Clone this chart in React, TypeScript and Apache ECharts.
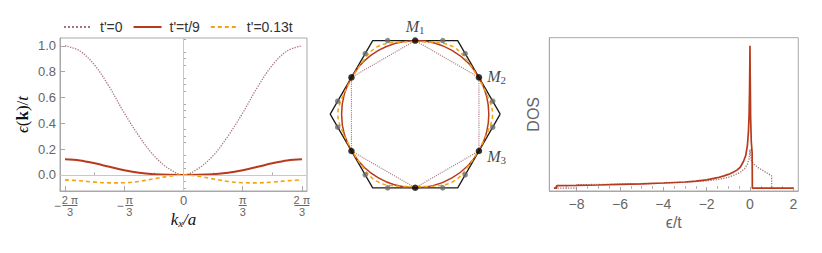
import React, { useEffect, useRef } from "react";
import * as echarts from "echarts";

// ---------------- Left panel: dispersion along kx (kx in units of π/3) ----------------
const kTicks = [-2, -1, 0, 1, 2];
const kMinorTicks = [-1.5, -0.5, 0.5, 1.5];
const energyTicks = [0, 0.2, 0.4, 0.6, 0.8, 1.0];
const energyMinorTicks = [-0.1, -0.05, 0.05, 0.1, 0.15, 0.25, 0.3, 0.35, 0.45, 0.5, 0.55, 0.65, 0.7, 0.75, 0.85, 0.9, 0.95, 1.05];
const kValues = [-2, -1.75, -1.5, -1.25, -1, -0.75, -0.5, -0.25, 0, 0.25, 0.5, 0.75, 1, 1.25, 1.5, 1.75, 2];
const bandT0 = [1.0, 0.96, 0.85, 0.68, 0.48, 0.3, 0.15, 0.05, 0, 0.05, 0.15, 0.3, 0.48, 0.68, 0.85, 0.96, 1.0];
const bandT9 = [0.121, 0.112, 0.09, 0.063, 0.037, 0.017, 0.006, 0.001, 0, 0.001, 0.006, 0.017, 0.037, 0.063, 0.09, 0.112, 0.121];
const bandT13 = [-0.038, -0.045, -0.055, -0.061, -0.06, -0.05, -0.03, -0.01, 0, -0.01, -0.03, -0.05, -0.06, -0.061, -0.055, -0.045, -0.038];
const legendNames = ["t'=0", "t'=t/9", "t'=0.13t"];

// ---------------- Middle panel: Brillouin zone and Fermi surfaces ----------------
const hexVertices = [[1, 0], [0.5, 0.866], [-0.5, 0.866], [-1, 0], [-0.5, -0.866], [0.5, -0.866], [1, 0]];
const mPoints = [[0, 0.866], [0.75, 0.433], [0.75, -0.433], [0, -0.866], [-0.75, -0.433], [-0.75, 0.433]];
const mSubscripts = ["1", "2", "3", "", "", ""];
const greyPoints = [
  [-0.324, 0.866], [0.324, 0.866], [0.588, 0.713], [0.912, 0.153], [0.912, -0.153], [0.588, -0.713],
  [0.324, -0.866], [-0.324, -0.866], [-0.588, -0.713], [-0.912, -0.153], [-0.912, 0.153], [-0.588, 0.713],
];
const fermiT0 = [[0, 0.866], [0.75, 0.433], [0.75, -0.433], [0, -0.866], [-0.75, -0.433], [-0.75, 0.433], [0, 0.866]];
const fermiT9Circle = [[0, 0, 0.866]];
const fermiT13 = [
  [0, 0.852], [0.226, 0.845], [0.455, 0.788], [0.619, 0.619], [0.74, 0.428], [0.845, 0.226], [0.91, 0],
  [0.845, -0.226], [0.74, -0.428], [0.619, -0.619], [0.455, -0.788], [0.226, -0.845], [0, -0.852],
  [-0.226, -0.845], [-0.455, -0.788], [-0.619, -0.619], [-0.74, -0.428], [-0.845, -0.226], [-0.91, 0],
  [-0.845, 0.226], [-0.74, 0.428], [-0.619, 0.619], [-0.455, 0.788], [-0.226, 0.845], [0, 0.852],
];

// ---------------- Right panel: density of states ----------------
const dosTicks = [-8, -6, -4, -2, 0, 2];
const dosMinorTicks = [-9, -8.5, -7.5, -7, -6.5, -5.5, -5, -4.5, -3.5, -3, -2.5, -1.5, -1, -0.5, 0.5, 1, 1.5];
const dosT0 = [
  [-9.0, 0.004], [-8.02, 0.004], [-8.0, 0.028], [-7, 0.03], [-6, 0.032], [-5, 0.035], [-4, 0.039], [-3, 0.045],
  [-2, 0.055], [-1.5, 0.064], [-1, 0.08], [-0.7, 0.097], [-0.45, 0.115], [-0.25, 0.14], [-0.12, 0.17],
  [-0.05, 0.205], [-0.01, 0.25], [0, 0.275], [0.02, 0.24], [0.06, 0.2], [0.15, 0.175], [0.4, 0.145],
  [0.7, 0.118], [1.0, 0.09], [1.0, 0.004], [1.1, 0.004],
];
const dosT9 = [
  [-9.05, 0.004], [-8.93, 0.004], [-8.92, 0.021], [-8, 0.023], [-7, 0.026], [-6, 0.03], [-5, 0.034], [-4, 0.04],
  [-3, 0.047], [-2.5, 0.053], [-2, 0.062], [-1.5, 0.077], [-1.2, 0.09], [-1, 0.1], [-0.8, 0.113], [-0.6, 0.13],
  [-0.45, 0.15], [-0.3, 0.19], [-0.2, 0.23], [-0.12, 0.3], [-0.07, 0.4], [-0.04, 0.52], [-0.02, 0.68],
  [-0.005, 0.9], [0, 1.0], [0.01, 0.8], [0.03, 0.5], [0.06, 0.33], [0.1, 0.25], [0.11, 0.25], [0.11, 0.004],
  [2, 0.004],
];

const RED = "#b73a1c";
const ORANGE = "#f5a20f";
const DOT = "#a8737a";
const FRAME = "#a8a8a8";
const TICKLABEL = "#666666";
const SANS = "Liberation Sans";
const SERIF = "Liberation Serif";

function kLabel(v: number): string {
  if (Math.abs(v) < 1e-9) return "{z|0}";
  const wide = Math.abs(Math.abs(v) - 2) < 1e-9;
  const num = wide ? "2 π" : "π";
  const bar = wide ? "{bw| }" : "{bn| }";
  if (v < 0) return `{sp| }{num|${num}}\n{m|−}${bar}\n{sp| }{den|3}`;
  return `{num|${num}}\n${bar}\n{den|3}`;
}

export default function App() {
  const ref = useRef<HTMLDivElement>(null);
  useEffect(() => {
    if (!ref.current) return;
    const chart = echarts.init(ref.current, undefined, { renderer: "svg" });
    const subRich = {
      m: { fontFamily: SERIF, fontStyle: "italic", fontSize: 16, color: "#111", lineHeight: 18 },
      s: { fontFamily: SERIF, fontSize: 11, color: "#111", lineHeight: 10, verticalAlign: "bottom", padding: [6, 0, 0, 0] },
    };
    const option: any = {
      animation: false,
      textStyle: { fontFamily: SANS },
      legend: {
        data: legendNames,
        left: 58,
        top: 15,
        itemWidth: 28,
        itemHeight: 12,
        itemGap: 10,
        selectedMode: false,
        itemStyle: { opacity: 0 },
        textStyle: { fontFamily: SANS, fontSize: 14, color: "#333", padding: [0, 0, 0, 3] },
      },
      grid: [
        { left: 60, top: 38, width: 247, height: 153, show: true, borderColor: FRAME, borderWidth: 1, backgroundColor: "transparent" },
        { left: 321.7, top: 20.7, width: 187, height: 187 },
        { left: 549.3, top: 37.7, width: 249, height: 153.3, show: true, borderColor: FRAME, borderWidth: 1, backgroundColor: "transparent" },
      ],
      xAxis: [
        {
          gridIndex: 0, type: "value", min: -2.085, max: 2.085, position: "bottom",
          axisLine: { show: true, onZero: false, lineStyle: { color: FRAME } },
          axisTick: { show: true, inside: true, length: 5, customValues: kTicks, lineStyle: { color: FRAME } },
          splitLine: { show: false },
          axisLabel: {
            customValues: kTicks, margin: 4, formatter: kLabel,
            rich: {
              num: { fontFamily: SANS, fontSize: 11, color: TICKLABEL, lineHeight: 9 },
              den: { fontFamily: SANS, fontSize: 11, color: TICKLABEL, lineHeight: 9 },
              bw: { width: 15, height: 1, backgroundColor: TICKLABEL, lineHeight: 3, fontSize: 1 },
              bn: { width: 8, height: 1, backgroundColor: TICKLABEL, lineHeight: 3, fontSize: 1 },
              m: { fontFamily: SANS, fontSize: 12, color: TICKLABEL, width: 10, lineHeight: 3 },
              sp: { width: 10, fontSize: 1, lineHeight: 9 },
              z: { fontFamily: SANS, fontSize: 13, color: TICKLABEL, lineHeight: 11 },
            },
          },
          name: "{i|k}{s|x}{i|/a}", nameLocation: "middle", nameGap: 19, nameMoveOverlap: false,
          nameTextStyle: {
            verticalAlign: "top",
            rich: {
              i: { fontFamily: SERIF, fontStyle: "italic", fontSize: 17, color: "#111", lineHeight: 18 },
              s: { fontFamily: SERIF, fontStyle: "italic", fontSize: 11, color: "#111", lineHeight: 10, verticalAlign: "bottom", padding: [6, 0, 0, 0] },
            },
          },
        },
        {
          gridIndex: 0, type: "value", min: -2.085, max: 2.085, position: "bottom",
          axisLine: { show: false },
          axisTick: { show: true, inside: true, length: 2.5, customValues: kMinorTicks, lineStyle: { color: FRAME } },
          axisLabel: { show: false }, splitLine: { show: false },
        },
        { gridIndex: 1, type: "value", min: -1.1, max: 1.1, show: false },
        {
          gridIndex: 2, type: "value", min: -9.26, max: 2.23, position: "bottom",
          axisLine: { show: true, onZero: false, lineStyle: { color: FRAME } },
          axisTick: { show: true, inside: true, length: 4, customValues: dosTicks, lineStyle: { color: FRAME } },
          splitLine: { show: false },
          axisLabel: { customValues: dosTicks, margin: 6, fontFamily: SANS, fontSize: 14, color: TICKLABEL, formatter: (v: number) => (v < 0 ? "−" + Math.abs(v) : String(v)) },
          name: "ϵ/t", nameLocation: "middle", nameGap: 23, nameMoveOverlap: false,
          nameTextStyle: { fontFamily: SANS, fontSize: 16, color: TICKLABEL, verticalAlign: "top" },
        },
        {
          gridIndex: 2, type: "value", min: -9.26, max: 2.23, position: "bottom",
          axisLine: { show: false },
          axisTick: { show: true, inside: true, length: 2.5, customValues: dosMinorTicks, lineStyle: { color: FRAME } },
          axisLabel: { show: false }, splitLine: { show: false },
        },
      ],
      yAxis: [
        {
          gridIndex: 0, type: "value", min: -0.124, max: 1.06, position: "left",
          axisLine: { show: true, onZero: false, lineStyle: { color: FRAME } },
          axisTick: { show: true, inside: true, length: 5, customValues: energyTicks, lineStyle: { color: FRAME } },
          splitLine: { show: false },
          axisLabel: { customValues: energyTicks, margin: 4, fontFamily: SANS, fontSize: 13, color: TICKLABEL, formatter: (v: number) => v.toFixed(1) },
          name: "{e|ϵ}{p|(}{b|k}{p|)/}{e|t}", nameLocation: "middle", nameGap: 29, nameRotate: 90, nameMoveOverlap: false,
          nameTextStyle: {
            rich: {
              e: { fontFamily: SERIF, fontStyle: "italic", fontSize: 17, color: "#111" },
              p: { fontFamily: SERIF, fontSize: 17, color: "#111" },
              b: { fontFamily: SERIF, fontWeight: "bold", fontSize: 17, color: "#111" },
            },
          },
        },
        {
          gridIndex: 0, type: "value", min: -0.124, max: 1.06, position: "left",
          axisLine: { show: false },
          axisTick: { show: true, inside: true, length: 2.5, customValues: energyMinorTicks, lineStyle: { color: FRAME } },
          axisLabel: { show: false }, splitLine: { show: false },
        },
        { gridIndex: 1, type: "value", min: -1.1, max: 1.1, show: false },
        {
          gridIndex: 2, type: "value", min: -0.016, max: 1.056, position: "left",
          axisLine: { show: true, onZero: false, lineStyle: { color: FRAME } },
          axisTick: { show: false }, axisLabel: { show: false }, splitLine: { show: false },
          name: "DOS", nameLocation: "middle", nameGap: 8, nameRotate: 90, nameMoveOverlap: false,
          nameTextStyle: { fontFamily: SANS, fontSize: 16, color: TICKLABEL },
        },
      ],
      series: [
        {
          type: "line", xAxisIndex: 0, yAxisIndex: 0, data: [], z: 1, silent: true,
          markLine: {
            silent: true, symbol: ["none", "none"], label: { show: false },
            lineStyle: { color: "#c8c8c8", type: "solid", width: 1 },
            data: [{ yAxis: 0 }, { xAxis: 0 }],
          },
        },
        {
          name: legendNames[0], type: "line", xAxisIndex: 0, yAxisIndex: 0, smooth: 0.35, symbol: "none", z: 3,
          data: kValues.map((k, i) => [k, bandT0[i]]),
          lineStyle: { color: DOT, width: 1.3, type: "dotted" }, itemStyle: { color: DOT },
        },
        {
          name: legendNames[1], type: "line", xAxisIndex: 0, yAxisIndex: 0, smooth: 0.35, symbol: "none", z: 3,
          data: kValues.map((k, i) => [k, bandT9[i]]),
          lineStyle: { color: RED, width: 2, type: "solid" }, itemStyle: { color: RED },
        },
        {
          name: legendNames[2], type: "line", xAxisIndex: 0, yAxisIndex: 0, smooth: 0.35, symbol: "none", z: 3,
          data: kValues.map((k, i) => [k, bandT13[i]]),
          lineStyle: { color: ORANGE, width: 1.6, type: [4, 3] }, itemStyle: { color: ORANGE },
        },
        // middle
        {
          name: "BZ", type: "line", xAxisIndex: 2, yAxisIndex: 2, symbol: "none", data: hexVertices, z: 2,
          lineStyle: { color: "#1a1a1a", width: 1.3 },
        },
        {
          name: "FS0", type: "line", xAxisIndex: 2, yAxisIndex: 2, symbol: "none", data: fermiT0, z: 3,
          lineStyle: { color: DOT, width: 1.1, type: "dotted" },
        },
        {
          name: "FS9", type: "custom", xAxisIndex: 2, yAxisIndex: 2, data: fermiT9Circle, z: 3,
          encode: { x: 0, y: 1 },
          renderItem: (_p: any, api: any) => {
            const c = api.coord([api.value(0), api.value(1)]);
            const e = api.coord([api.value(0) + api.value(2), api.value(1)]);
            return { type: "circle", shape: { cx: c[0], cy: c[1], r: e[0] - c[0] }, style: { fill: "none", stroke: RED, lineWidth: 1.5 } };
          },
        },
        {
          name: "FS13", type: "line", xAxisIndex: 2, yAxisIndex: 2, symbol: "none", smooth: 0.4, data: fermiT13, z: 3,
          lineStyle: { color: ORANGE, width: 1.5, type: [4, 3] },
        },
        {
          name: "grey", type: "scatter", xAxisIndex: 2, yAxisIndex: 2, data: greyPoints, z: 5,
          symbolSize: 5.5, itemStyle: { color: "#6b6b6b" },
        },
        {
          name: "M", type: "scatter", xAxisIndex: 2, yAxisIndex: 2, z: 6, symbolSize: 6.5, itemStyle: { color: "#000" },
          data: mPoints.map((p, i) => ({
            value: p,
            label: mSubscripts[i]
              ? {
                  show: true,
                  position: i === 0 ? "top" : "right",
                  distance: i === 0 ? 1 : 5,
                  offset: i === 0 ? [0, -1] : i === 1 ? [0, -1] : [0, 5],
                  formatter: `{m|M}{s|${mSubscripts[i]}}`,
                  rich: subRich,
                }
              : { show: false },
          })),
        },
        // right
        {
          name: "DOS0", type: "line", xAxisIndex: 3, yAxisIndex: 3, symbol: "none", data: dosT0, z: 3,
          lineStyle: { color: DOT, width: 1.3, type: "dotted" },
        },
        {
          name: "DOS9", type: "line", xAxisIndex: 3, yAxisIndex: 3, symbol: "none", data: dosT9, z: 4,
          lineStyle: { color: RED, width: 1.7 },
        },
      ],
    };
    chart.setOption(option);
    return () => chart.dispose();
  }, []);
  return <div ref={ref} style={{ position: "absolute", left: 0, top: 0, width: 822, height: 253, background: "#fff" }} />;
}
